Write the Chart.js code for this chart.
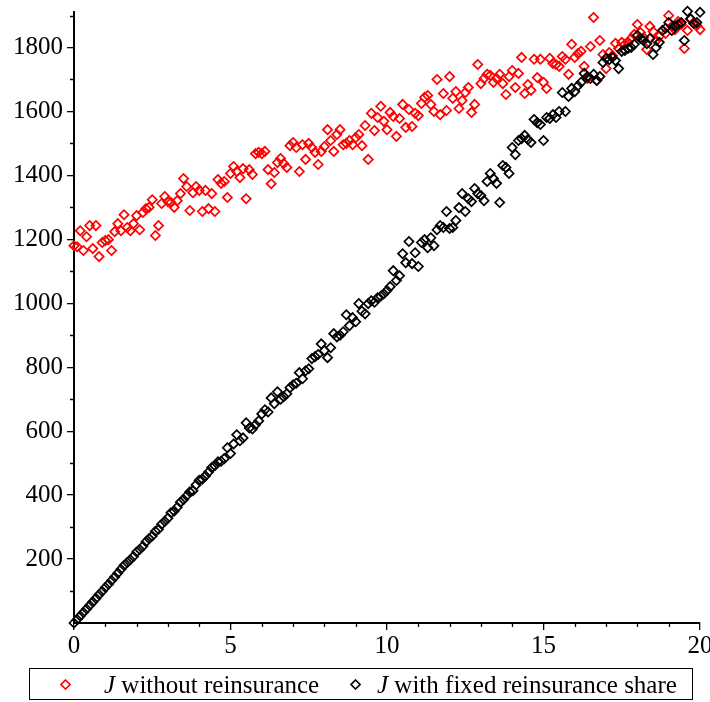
<!DOCTYPE html>
<html>
<head>
<meta charset="utf-8">
<script src="https://cdn.jsdelivr.net/npm/chart.js@4.4.1/dist/chart.umd.min.js"></script>
<style>
  html, body { margin: 0; padding: 0; background: #fff; }
  #wrap { position: relative; width: 710px; height: 702px; }
  #legend {
    position: absolute; left: 29px; top: 668px; width: 662px; height: 30px;
    border: 1.5px solid #000; box-sizing: content-box;
    font-family: 'Liberation Serif', 'Times New Roman', serif; font-size: 25px; color: #000;
  }
  #legend .mark { position: absolute; top: 10px; }
  #legend .txt { position: absolute; top: 0; line-height: 31px; white-space: nowrap; }
  #legend i { font-style: italic; }
</style>
</head>
<body>
<div id="wrap">
  <canvas id="chart" width="710" height="702"></canvas>
  <div id="legend">
    <svg class="mark" style="left:30px" width="11" height="11"><path d="M5.5 1 L10 5.5 L5.5 10 L1 5.5 Z" fill="none" stroke="#ff0000" stroke-width="1.6"/></svg>
    <span class="txt" style="left:74px"><i>J</i> without reinsurance</span>
    <svg class="mark" style="left:320px" width="11" height="11"><path d="M5.5 1 L10 5.5 L5.5 10 L1 5.5 Z" fill="none" stroke="#000" stroke-width="1.6"/></svg>
    <span class="txt" style="left:347px"><i>J</i> with fixed reinsurance share</span>
  </div>
</div>
<script>
// time grid
const times = [
  0.0, 0.1, 0.2, 0.3, 0.4, 0.5, 0.6, 0.7, 0.8, 0.9,
  1.0, 1.1, 1.2, 1.3, 1.4, 1.5, 1.6, 1.7, 1.8, 1.9,
  2.0, 2.1, 2.2, 2.3, 2.4, 2.5, 2.6, 2.7, 2.8, 2.9,
  3.0, 3.1, 3.2, 3.3, 3.4, 3.5, 3.6, 3.7, 3.8, 3.9,
  4.0, 4.1, 4.2, 4.3, 4.4, 4.5, 4.6, 4.7, 4.8, 4.9,
  5.0, 5.1, 5.2, 5.3, 5.4, 5.5, 5.6, 5.7, 5.8, 5.9,
  6.0, 6.1, 6.2, 6.3, 6.4, 6.5, 6.6, 6.7, 6.8, 6.9,
  7.0, 7.1, 7.2, 7.3, 7.4, 7.5, 7.6, 7.7, 7.8, 7.9,
  8.0, 8.1, 8.2, 8.3, 8.4, 8.5, 8.6, 8.7, 8.8, 8.9,
  9.0, 9.1, 9.2, 9.3, 9.4, 9.5, 9.6, 9.7, 9.8, 9.9,
  10.0, 10.1, 10.2, 10.3, 10.4, 10.5, 10.6, 10.7, 10.8, 10.9,
  11.0, 11.1, 11.2, 11.3, 11.4, 11.5, 11.6, 11.7, 11.8, 11.9,
  12.0, 12.1, 12.2, 12.3, 12.4, 12.5, 12.6, 12.7, 12.8, 12.9,
  13.0, 13.1, 13.2, 13.3, 13.4, 13.5, 13.6, 13.7, 13.8, 13.9,
  14.0, 14.1, 14.2, 14.3, 14.4, 14.5, 14.6, 14.7, 14.8, 14.9,
  15.0, 15.1, 15.2, 15.3, 15.4, 15.5, 15.6, 15.7, 15.8, 15.9,
  16.0, 16.1, 16.2, 16.3, 16.4, 16.5, 16.6, 16.7, 16.8, 16.9,
  17.0, 17.1, 17.2, 17.3, 17.4, 17.5, 17.6, 17.7, 17.8, 17.9,
  18.0, 18.1, 18.2, 18.3, 18.4, 18.5, 18.6, 18.7, 18.8, 18.9,
  19.0, 19.1, 19.2, 19.3, 19.4, 19.5, 19.6, 19.7, 19.8, 19.9,
  20.0
];

// J without reinsurance
const withoutReins = [
  1180, 1177, 1227, 1165, 1208, 1243, 1171, 1243, 1146, 1190,
  1196, 1199, 1165, 1224, 1249, 1227, 1277, 1237, 1227, 1249,
  1274, 1230, 1284, 1296, 1300, 1324, 1212, 1243, 1312, 1334,
  1318, 1315, 1300, 1321, 1343, 1390, 1365, 1290, 1346, 1365,
  1353, 1287, 1353, 1296, 1343, 1287, 1387, 1375, 1381, 1331,
  1406, 1428, 1412, 1393, 1421, 1327, 1418, 1403, 1468, 1472,
  1468, 1475, 1418, 1374, 1409, 1440, 1453, 1437, 1425, 1493,
  1503, 1487, 1412, 1496, 1450, 1500, 1487, 1472, 1434, 1475,
  1490, 1543, 1509, 1475, 1528, 1543, 1496, 1500, 1509, 1496,
  1518, 1528, 1493, 1556, 1450, 1594, 1540, 1581, 1616, 1569,
  1543, 1597, 1584, 1522, 1578, 1622, 1550, 1606, 1553, 1594,
  1587, 1625, 1644, 1650, 1622, 1600, 1700, 1590, 1656, 1603,
  1709, 1641, 1662, 1609, 1634, 1659, 1675, 1597, 1622, 1747,
  1687, 1703, 1716, 1713, 1691, 1703, 1716, 1687, 1653, 1709,
  1728, 1675, 1719, 1769, 1656, 1684, 1666, 1763, 1706, 1763,
  1691, 1672, 1766, 1750, 1747, 1741, 1772, 1763, 1716, 1810,
  1769, 1781, 1788, 1741, 1703, 1803, 1894, 1697, 1822, 1778,
  1734, 1784, 1775, 1813, 1797, 1816, 1810, 1816, 1828, 1841,
  1872, 1847, 1831, 1794, 1866, 1850, 1822, 1835, 1853, 1844,
  1900, 1866, 1856, 1881, 1872, 1797, 1853, 1888, 1878, 1869,
  1856
];

// J with fixed reinsurance share
const fixedShare = [
  0, 11, 22, 33, 44, 55, 66, 77, 89, 99,
  111, 121, 133, 144, 156, 168, 180, 189, 198, 208,
  222, 230, 240, 254, 264, 272, 287, 293, 309, 318,
  328, 345, 350, 362, 378, 386, 398, 410, 414, 432,
  446, 450, 460, 472, 486, 492, 504, 506, 514, 548,
  530, 560, 589, 570, 579, 626, 610, 607, 620, 632,
  654, 667, 660, 704, 686, 723, 700, 708, 717, 736,
  745, 750, 783, 764, 789, 795, 827, 833, 840, 873,
  852, 830, 861, 905, 895, 900, 911, 964, 930, 955,
  942, 999, 975, 967, 999, 1008, 1003, 1017, 1022, 1030,
  1040, 1052, 1102, 1071, 1086, 1155, 1127, 1193, 1124, 1158,
  1115, 1190, 1199, 1174, 1205, 1180, 1230, 1243, 1237, 1287,
  1234, 1237, 1259, 1299, 1343, 1287, 1327, 1318, 1359, 1343,
  1337, 1321, 1381, 1406, 1390, 1375, 1315, 1431, 1425, 1406,
  1487, 1465, 1509, 1515, 1525, 1512, 1503, 1575, 1565, 1559,
  1509, 1581, 1578, 1590, 1581, 1600, 1659, 1600, 1647, 1672,
  1662, 1680, 1691, 1719, 1709, 1703, 1716, 1697, 1709, 1753,
  1766, 1762, 1769, 1759, 1734, 1788, 1791, 1797, 1800, 1810,
  1838, 1828, 1822, 1812, 1828, 1778, 1800, 1816, 1853, 1860,
  1878, 1853, 1866, 1872, 1878, 1822, 1913, 1890, 1875, 1878,
  1910
];

const xTickStep = 5;
const yTickStep = 200;
const yMax = 1911;

const tickFont = { family: "'Liberation Serif', 'Times New Roman', serif", size: 25 };

function toPoints(ys) {
  return times.map(function (t, i) { return { x: t, y: ys[i] }; });
}

// small unlabelled ticks between the labelled ones
const minorTicks = {
  id: 'minorTicks',
  afterDraw: function (chart) {
    const ctx = chart.ctx;
    const area = chart.chartArea;
    const xs = chart.scales.x, ys = chart.scales.y;
    ctx.save();
    ctx.strokeStyle = '#000';
    ctx.lineWidth = 1.3;
    ctx.beginPath();
    for (let v = 100; v < ys.max; v += 200) {
      const py = Math.round(ys.getPixelForValue(v)) + 0.5;
      ctx.moveTo(area.left - 4, py);
      ctx.lineTo(area.left, py);
    }
    for (let v = 1; v < 20; v++) {
      if (v % xTickStep === 0) continue;
      const px = Math.round(xs.getPixelForValue(v)) + 0.5;
      ctx.moveTo(px, area.bottom);
      ctx.lineTo(px, area.bottom + 4);
    }
    ctx.stroke();
    ctx.restore();
  }
};

const ctx = document.getElementById('chart');
const chart = new Chart(ctx, {
  type: 'scatter',
  data: {
    datasets: [{
      label: 'J without reinsurance',
      data: toPoints(withoutReins),
      pointStyle: 'rectRot',
      pointRadius: 4.6,
      borderWidth: 1.7,
      borderColor: '#ff0000',
      backgroundColor: 'rgba(0,0,0,0)',
      order: 1,
      clip: false
    }, {
      label: 'J with fixed reinsurance share',
      data: toPoints(fixedShare),
      pointStyle: 'rectRot',
      pointRadius: 4.6,
      borderWidth: 1.7,
      borderColor: '#000000',
      backgroundColor: 'rgba(0,0,0,0)',
      order: 0,
      clip: false
    }]
  },
  options: {
    responsive: false,
    animation: false,
    devicePixelRatio: 1,
    layout: { padding: { top: 12, right: 10, bottom: 39, left: 0 } },
    plugins: {
      legend: { display: false },
      tooltip: { enabled: false }
    },
    scales: {
      x: {
        type: 'linear',
        position: 'bottom',
        min: 0,
        max: 20,
        ticks: {
          stepSize: xTickStep, font: tickFont, color: '#000', padding: 1, maxRotation: 0,
          callback: function (v) { return String(v); }
        },
        grid: { display: true, drawOnChartArea: false, drawTicks: true, tickLength: 7, color: '#000', lineWidth: 1.3 },
        border: { display: true, color: '#000', width: 2 },
        afterBuildTicks: function (s) {
          s.ticks = s.ticks.filter(function (t) { return t.value % xTickStep === 0; });
        },
        afterFit: function (s) {
          s.height = 40;
          s.paddingLeft = 0;
          s.paddingRight = 0;
        }
      },
      y: {
        type: 'linear',
        min: 0,
        max: yMax,
        ticks: {
          stepSize: yTickStep, font: tickFont, color: '#000', padding: 4,
          callback: function (v) { return String(v); }
        },
        grid: { display: true, drawOnChartArea: false, drawTicks: true, tickLength: 7, color: '#000', lineWidth: 1.3 },
        border: { display: true, color: '#000', width: 2 },
        afterBuildTicks: function (s) {
          s.ticks = s.ticks.filter(function (t) { return t.value > 0 && t.value % yTickStep === 0; });
        },
        afterFit: function (s) {
          s.width = 74;
          s.paddingTop = 0;
          s.paddingBottom = 0;
        }
      }
    }
  },
  plugins: [minorTicks]
});
</script>
</body>
</html>
